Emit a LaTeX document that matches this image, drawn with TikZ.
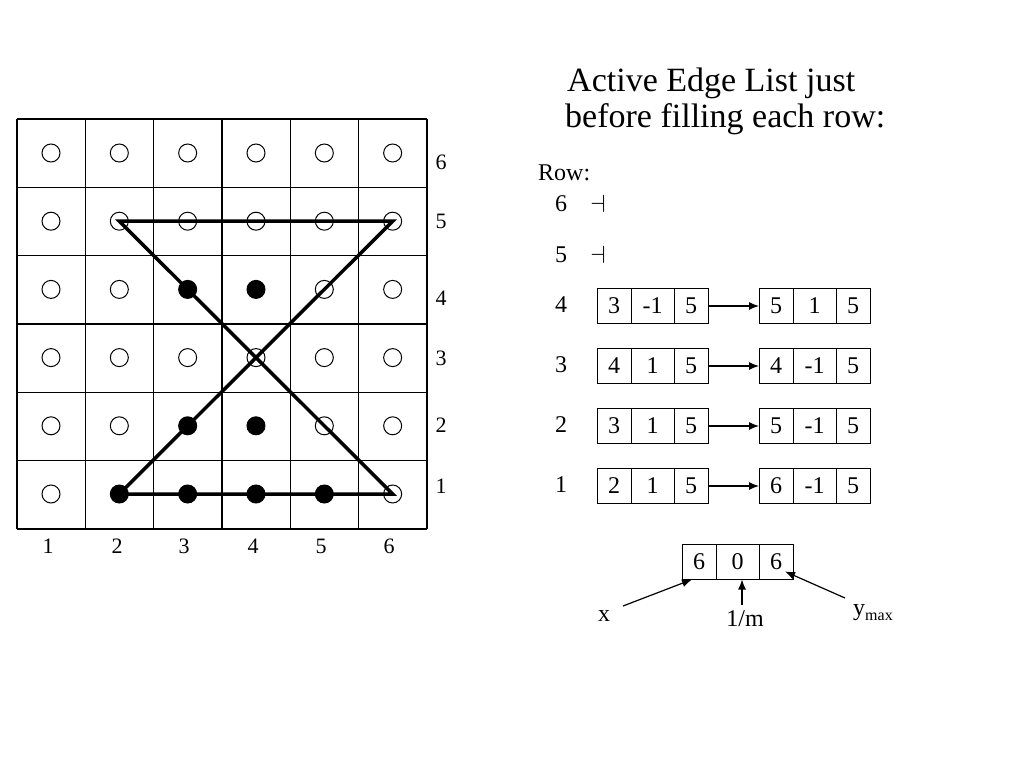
\documentclass[tikz,border=0pt]{standalone}
\usepackage{fontspec}
\setmainfont{Liberation Serif}
\usetikzlibrary{positioning,arrows.meta}
\colorlet{off}{white}
\colorlet{on}{black}
\begin{document}
\begin{tikzpicture}[x=1pt,y=-1pt,
    pix/.style={circle,draw,line width=1pt,minimum size=18pt,inner sep=0pt,fill=#1},
    cell/.style={rectangle,draw,line width=1pt,minimum height=35pt,minimum width=34pt,inner sep=0pt,outer sep=0pt,font=\fontsize{24}{28}\selectfont},
    midcell/.style={cell,minimum width=43pt},
    lbl/.style={font=\fontsize{24}{28}\selectfont,inner sep=0pt},
    axis/.style={font=\fontsize{22}{26}\selectfont,inner sep=0pt},
    head/.style={anchor=base west,inner sep=0pt,font=\fontsize{34}{40}\selectfont},
    ptr/.style={-{Latex[length=10pt,width=8pt]},line width=1.2pt}]
    \useasboundingbox (0,0) rectangle (1024,768);
    \def\EdgeRec#1#2#3#4#5#6{%
        \node[cell] (#1a) at (#2+17,#3) {#4};
        \node[midcell,right=0pt of #1a] (#1b) {#5};
        \node[cell,right=0pt of #1b] (#1c) {#6};}
    \foreach \i in {0,...,6}
        \draw[line width=1.3pt] (17+\i*68.33,119) -- (17+\i*68.33,529) (17,119+\i*68.33) -- (427,119+\i*68.33);
    \foreach \n/\marks in {6/{off,off,off,off,off,off},5/{off,off,off,off,off,off},4/{off,off,on,on,off,off},
        3/{off,off,off,off,off,off},2/{off,off,on,on,off,off},1/{off,on,on,on,on,off}}
        \foreach \m [count=\c] in \marks
            \node[pix=\m] (p\c\n) at (51+68.33*\c-68.33,494-68.2*\n+68.2) {};
    \draw[line width=3.5pt] (p25.center) -- (p65.center) -- (p21.center) -- (p61.center) -- cycle;
    \foreach \n/\y in {6/162,5/221,4/298,3/358,2/425,1/486}
        \node[axis] (ry\n) at (441,\y) {\n};
    \foreach \n/\x in {1/48,2/117,3/184,4/253,5/321,6/389}
        \node[axis] (cx\n) at (\x,546) {\n};
    \node[head] (title1) at (567,91) {Active Edge List just};
    \node[head] (title2) at (565,127) {before filling each row:};
    \node[lbl,anchor=base west] (rowhead) at (538,180) {Row:};
    \node[lbl] (row6) at (561,204) {6};
    \node[lbl] (nil6) at (598,204) {$\dashv$};
    \node[lbl] (row5) at (561,255) {5};
    \node[lbl] (nil5) at (598,255) {$\dashv$};
    \foreach \n/\y/\xa/\ma/\xb/\mb in {4/306/3/-1/5/1,3/366/4/1/4/-1,2/426/3/1/5/-1,1/486/2/1/6/-1}{
        \node[lbl] (row\n) at (561,\y-1) {\n};
        \EdgeRec{l\n}{597}{\y}{\xa}{\ma}{5}
        \EdgeRec{r\n}{759}{\y}{\xb}{\mb}{5}
        \draw[ptr] (l\n c) -- (r\n a);}
    \EdgeRec{lg}{682}{562}{6}{0}{6}
    \node[lbl] (xl) at (604,616) {x};
    \node[lbl] (ml) at (745,619) {1/m};
    \node[lbl,anchor=base west] (yl) at (853,615) {y\raisebox{-5pt}{\fontsize{16}{18}\selectfont max}};
    \coordinate (xt) at (623,606);
    \coordinate (mt) at (742,605);
    \coordinate (yt) at (845,598);
    \draw[ptr] (xt) -- ([xshift=10pt]lga.south west);
    \draw[ptr] (mt) -- (mt |- lgb.south);
    \draw[ptr] (yt) -- ([shift={(-8,-8)}]lgc.south east);
\end{tikzpicture}
\end{document}
